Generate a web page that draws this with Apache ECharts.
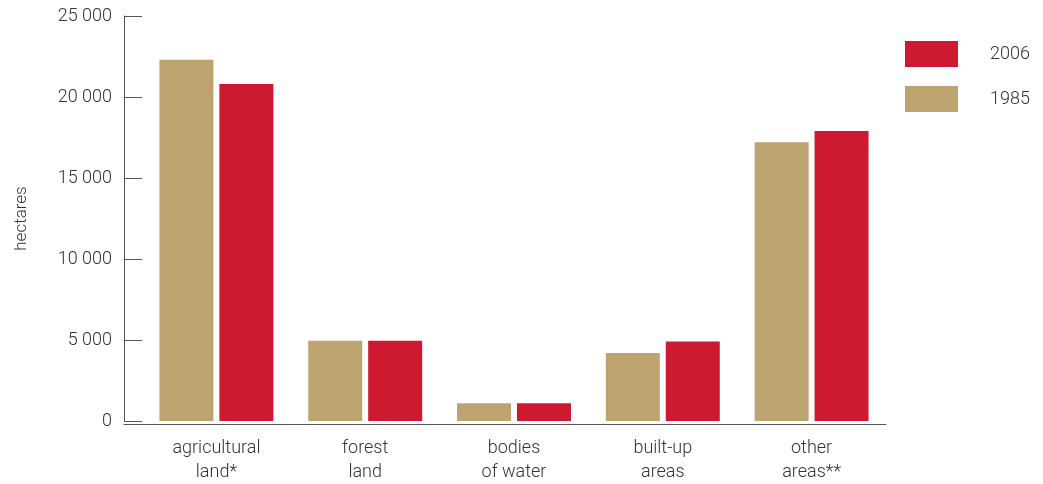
<!DOCTYPE html>
<html><head><meta charset="utf-8">
<script src="https://cdn.jsdelivr.net/npm/echarts@6/dist/echarts.min.js"></script>
<style>html,body{margin:0;padding:0;background:#fff}#c{width:1043px;height:484px}</style>
</head><body><div id="c"></div>
<script>
const categories = ['agricultural\nland*', 'forest\nland', 'bodies\nof water', 'built-up\nareas', 'other\nareas**'];
const values1985 = [22300, 4950, 1100, 4200, 17200];
const values2006 = [20800, 4950, 1100, 4900, 17900];
const yTicks = [0, 5000, 10000, 15000, 20000, 25000];

const FONT = 'Roboto';
const txt = '#333';
const axisCol = '#555';
const chart = echarts.init(document.getElementById('c'));
chart.setOption({
  animation: false,
  textStyle: {fontFamily: FONT},
  grid: [
    {left: 142, right: 157, top: 16, bottom: 60},
    {left: 124, right: 157, top: 16, bottom: 60}
  ],
  legend: {
    data: ['2006', '1985'], orient: 'vertical', left: 900, top: 36,
    itemWidth: 53, itemHeight: 26, itemGap: 19, icon: 'rect',
    textStyle: {fontSize: 18, fontWeight: 300, color: txt, padding: [0, 0, 0, 27], fontFamily: FONT}
  },
  xAxis: [
    {type: 'category', gridIndex: 0, data: categories,
     axisLine: {show: false}, axisTick: {show: false},
     axisLabel: {fontSize: 18, fontWeight: 300, color: txt, lineHeight: 24, margin: 15, fontFamily: FONT}},
    {type: 'value', gridIndex: 1, min: 0, max: 1,
     axisLine: {show: true, lineStyle: {color: axisCol, width: 1}}, axisTick: {show: false},
     axisLabel: {show: false}, splitLine: {show: false}}
  ],
  yAxis: [
    {type: 'value', gridIndex: 0, min: 0, max: 25000, interval: 5000, offset: 18,
     name: 'hectares', nameLocation: 'middle', nameGap: 94, nameRotate: 90,
     nameTextStyle: {fontSize: 17, fontWeight: 300, color: txt, fontFamily: FONT},
     axisLine: {show: true, lineStyle: {color: axisCol, width: 1}},
     axisTick: {show: true, inside: true, length: 18, lineStyle: {color: axisCol}},
     splitLine: {show: false},
     axisLabel: {fontSize: 18, fontWeight: 300, color: txt, margin: 12, fontFamily: FONT,
       formatter: v => yTicks.includes(v) ? String(v).replace(/\B(?=(\d{3})+(?!\d))/g, ' ') : ''}},
    {type: 'value', gridIndex: 1, min: 0, max: 1, show: false}
  ],
  series: [
    {name: '1985', type: 'bar', xAxisIndex: 0, yAxisIndex: 0, data: values1985,
     barWidth: 54, barGap: '11%', itemStyle: {color: '#BDA36F'}},
    {name: '2006', type: 'bar', xAxisIndex: 0, yAxisIndex: 0, data: values2006,
     barWidth: 54, barGap: '11%', itemStyle: {color: '#CD1A30'}}
  ]
});
</script></body></html>
